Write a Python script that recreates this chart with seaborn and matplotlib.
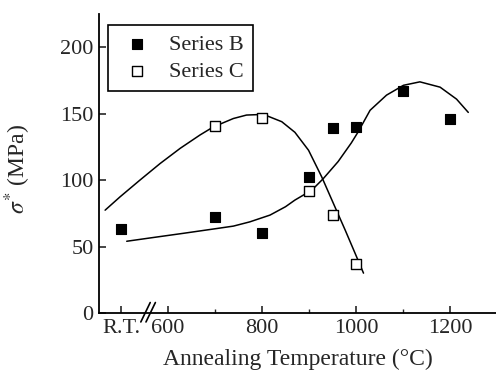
import numpy as np
import pandas as pd
import matplotlib
matplotlib.use('Agg')
import matplotlib.pyplot as plt
import seaborn as sns

sns.set_theme(style='ticks')
plt.rcParams['font.family'] = ['Liberation Serif', 'DejaVu Serif']
plt.rcParams['mathtext.fontset'] = 'stix'

# ── data (R.T. is drawn at x=500) ─────────────────────────────
RT = 500
B_temp = [RT, 700, 800, 900, 950, 1000, 1100, 1200]
B_sig  = [63, 72, 60, 102, 139, 140, 167, 146]
C_temp = [700, 800, 900, 950, 1000]
C_sig  = [141, 147, 92, 74, 37]

# guide curves
B_fit_x = [512, 562, 633, 704, 739, 774, 817, 850, 870, 906, 930, 962, 990,
           1004, 1030, 1065, 1101, 1136, 1179, 1214, 1239]
B_fit_y = [54, 56.5, 60, 63.6, 65.4, 68.6, 73.7, 80, 85, 92.5, 101, 114, 128,
           136, 152.6, 164, 171.4, 174, 170, 161, 151]
C_fit_x = [466, 498, 540, 583, 626, 668, 696, 739, 767, 803, 842, 870, 899,
           927, 955, 977, 998, 1016]
C_fit_y = [77.4, 87.5, 100, 112.5, 124, 134, 140, 146.4, 149, 149.5, 144, 136,
           122.5, 102.5, 80, 62.4, 45, 30]

x_ticks  = [RT, 600, 800, 1000, 1200]
x_labels = ['R.T.', '600', '800', '1000', '1200']
x_minor  = [700, 900, 1100]
y_ticks  = [0, 50, 100, 150, 200]

fig = plt.figure(figsize=(4.96, 3.81), dpi=100)
ax = fig.add_axes([0.1996, 0.1785, 0.8004, 0.7845])

sns.lineplot(x=B_fit_x, y=B_fit_y, sort=False, color='black', lw=1.1, ax=ax)
sns.lineplot(x=C_fit_x, y=C_fit_y, sort=False, color='black', lw=1.1, ax=ax)
sns.scatterplot(x=B_temp, y=B_sig, marker='s', s=55, color='black',
                edgecolor='black', linewidth=0.8, label='Series B', ax=ax, zorder=3)
sns.scatterplot(x=C_temp, y=C_sig, marker='s', s=50, facecolor='white',
                edgecolor='black', linewidth=1.0, label='Series C', ax=ax, zorder=3)

ax.set_xlim(453, 1298)
ax.set_ylim(0, 225)
ax.set_xticks(x_ticks)
ax.set_xticklabels(x_labels)
ax.set_xticks(x_minor, minor=True)
ax.set_yticks(y_ticks)
ax.tick_params(direction='in', length=5, width=1.2, labelsize=16, pad=4)
ax.tick_params(which='minor', direction='in', length=3, width=1.0)

for side in ['top', 'right']:
    ax.spines[side].set_visible(False)
for side in ['left', 'bottom']:
    ax.spines[side].set_linewidth(1.3)
    ax.spines[side].set_color('black')

# axis break marks
trans = ax.get_xaxis_transform()
for xb in [552, 563]:
    ax.plot([xb - 10, xb + 10], [-0.03, 0.035], color='black', lw=1.2,
            transform=trans, clip_on=False)

ax.set_xlabel('Annealing Temperature (°C)', fontsize=17, labelpad=8)
ax.set_ylabel(r'$\sigma^{*}$ (MPa)', fontsize=17)
ax.yaxis.set_label_coords(-0.165, 0.48)

leg = ax.legend(loc='upper left', bbox_to_anchor=(0.023, 0.963), borderaxespad=0,
                fontsize=16, frameon=True, fancybox=False, framealpha=1,
                edgecolor='black', handletextpad=0.55, borderpad=0.4,
                labelspacing=0.3, handlelength=1.8)
leg.get_frame().set_linewidth(1.2)

fig.savefig('out.png', dpi=100)
